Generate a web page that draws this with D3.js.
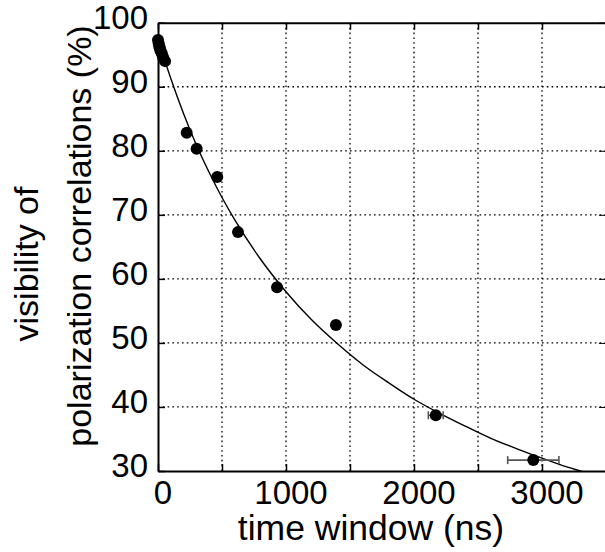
<!DOCTYPE html>
<html>
<head>
<meta charset="utf-8">
<script src="https://cdn.jsdelivr.net/npm/d3@7/dist/d3.min.js"></script>
<style>
html,body{margin:0;padding:0;background:#fff;}
svg{display:block;font-family:"Liberation Sans",Arial,Helvetica,sans-serif;}
</style>
</head>
<body>
<svg id="chart" width="605" height="552"></svg>
<script>
// measured data points
const times = [0, 5, 10, 15, 20, 30, 40, 55, 224, 302, 463, 625, 930, 1390, 2170, 2932];
const visibility = [97.3, 96.8, 96.3, 96.0, 95.6, 95.2, 94.6, 94.0, 82.8, 80.3, 75.9, 67.3, 58.7, 52.8, 38.7, 31.7];
const timeErr = [0, 0, 0, 0, 0, 0, 0, 0, 0, 0, 0, 0, 0, 0, 58, 200];

// fit curve
const fitTimes = [0, 50, 100, 200, 300, 400, 500, 600, 800, 1000, 1200, 1400, 1600, 1800, 2000, 2200, 2400, 2600, 2800, 3000, 3200, 3300, 3400];
const fitVis = [97.5, 94.3, 91.3, 85.8, 80.9, 76.6, 72.7, 69.2, 63.1, 58.0, 53.6, 49.9, 46.6, 43.8, 41.2, 39.0, 37.0, 35.1, 33.5, 32.0, 30.6, 30.0, 29.4];

const xTicks = [0, 500, 1000, 1500, 2000, 2500, 3000, 3500];
const xTickLabels = ["0", "", "1000", "", "2000", "", "3000", ""];
const yTicks = [30, 40, 50, 60, 70, 80, 90, 100];

const xTitle = "time window (ns)";
const yTitle = ["visibility of", "polarization correlations (%)"];

const svg = d3.select("#chart");
const L = 158, R = 606, T = 22.7, B = 471;
const x = d3.scaleLinear().domain([0, 3500]).range([L, R]);
const y = d3.scaleLinear().domain([30, 100]).range([B, T]);

svg.append("defs").append("clipPath").attr("id", "clip")
  .append("rect").attr("x", L).attr("y", T).attr("width", R - L).attr("height", B - T);

// grid
const grid = svg.append("g").attr("stroke", "#000").attr("stroke-width", 1.3).attr("stroke-dasharray", "1.6,3.2");
grid.selectAll("line.v").data(xTicks.filter(d => d > 0 && d < 3500)).join("line")
  .attr("x1", d => x(d)).attr("x2", d => x(d)).attr("y1", B).attr("y2", T);
grid.selectAll("line.h").data(yTicks.filter(d => d > 30 && d < 100)).join("line")
  .attr("y1", d => y(d)).attr("y2", d => y(d)).attr("x1", L).attr("x2", R);

// axes (ticks inward)
const fs = 33;
const gx = svg.append("g").attr("transform", `translate(0,${B})`)
  .call(d3.axisBottom(x).tickValues(xTicks).tickSizeInner(-7).tickSizeOuter(0)
    .tickFormat((d, i) => xTickLabels[i]).tickPadding(0));
gx.select(".domain").attr("stroke-width", 2);
gx.selectAll(".tick line").attr("stroke-width", 1.5);
gx.selectAll(".tick text").attr("font-size", fs).attr("fill", "#000")
  .attr("dy", null).attr("y", 32.5).attr("dx", 4.5).attr("font-family", "Liberation Sans, Arial, sans-serif");

const gt = svg.append("g").attr("transform", `translate(0,${T})`)
  .call(d3.axisTop(x).tickValues(xTicks).tickSizeInner(-7).tickSizeOuter(0).tickFormat(""));
gt.select(".domain").attr("stroke-width", 2);
gt.selectAll(".tick line").attr("stroke-width", 1.5);

const gy = svg.append("g").attr("transform", `translate(${L},0)`)
  .call(d3.axisLeft(y).tickValues(yTicks).tickSizeInner(-7).tickSizeOuter(0)
    .tickFormat(d3.format("d")).tickPadding(0));
gy.select(".domain").attr("stroke-width", 2);
gy.selectAll(".tick line").attr("stroke-width", 1.5);
gy.selectAll(".tick text").attr("font-size", fs).attr("fill", "#000")
  .attr("dy", null).attr("x", -10).attr("y", 5.6).attr("font-family", "Liberation Sans, Arial, sans-serif");

const gr = svg.append("g").attr("transform", `translate(${R},0)`)
  .call(d3.axisRight(y).tickValues(yTicks).tickSizeInner(-7).tickSizeOuter(0).tickFormat(""));
gr.select(".domain").attr("stroke-width", 2);

// fit curve
const line = d3.line().x((d, i) => x(fitTimes[i])).y(d => y(d)).curve(d3.curveMonotoneX);
svg.append("path").datum(fitVis).attr("clip-path", "url(#clip)")
  .attr("fill", "none").attr("stroke", "#000").attr("stroke-width", 1.4).attr("d", line);

// error bars
const eb = svg.append("g").attr("stroke", "#555").attr("stroke-width", 1.6);
const errIdx = times.map((t, i) => i).filter(i => timeErr[i] > 0);
errIdx.forEach(i => {
  const cy = y(visibility[i]);
  eb.append("line").attr("x1", x(times[i] - timeErr[i])).attr("x2", x(times[i] + timeErr[i])).attr("y1", cy).attr("y2", cy);
  eb.append("line").attr("x1", x(times[i] - timeErr[i])).attr("x2", x(times[i] - timeErr[i])).attr("y1", cy - 4).attr("y2", cy + 4);
  eb.append("line").attr("x1", x(times[i] + timeErr[i])).attr("x2", x(times[i] + timeErr[i])).attr("y1", cy - 4).attr("y2", cy + 4);
});

// points
svg.append("g").selectAll("circle").data(times).join("circle")
  .attr("cx", d => x(d)).attr("cy", (d, i) => y(visibility[i])).attr("r", 6).attr("fill", "#000");

// titles
svg.append("text").attr("x", 371).attr("y", 540).attr("text-anchor", "middle")
  .attr("font-size", 35.5).attr("fill", "#000").text(xTitle);
svg.append("text").attr("transform", "translate(38.3,264) rotate(-90)").attr("text-anchor", "middle")
  .attr("font-size", 34).attr("fill", "#000").text(yTitle[0]);
svg.append("text").attr("transform", "translate(90.7,236) rotate(-90)").attr("text-anchor", "middle")
  .attr("font-size", 34).attr("fill", "#000").text(yTitle[1]);
</script>
</body>
</html>
